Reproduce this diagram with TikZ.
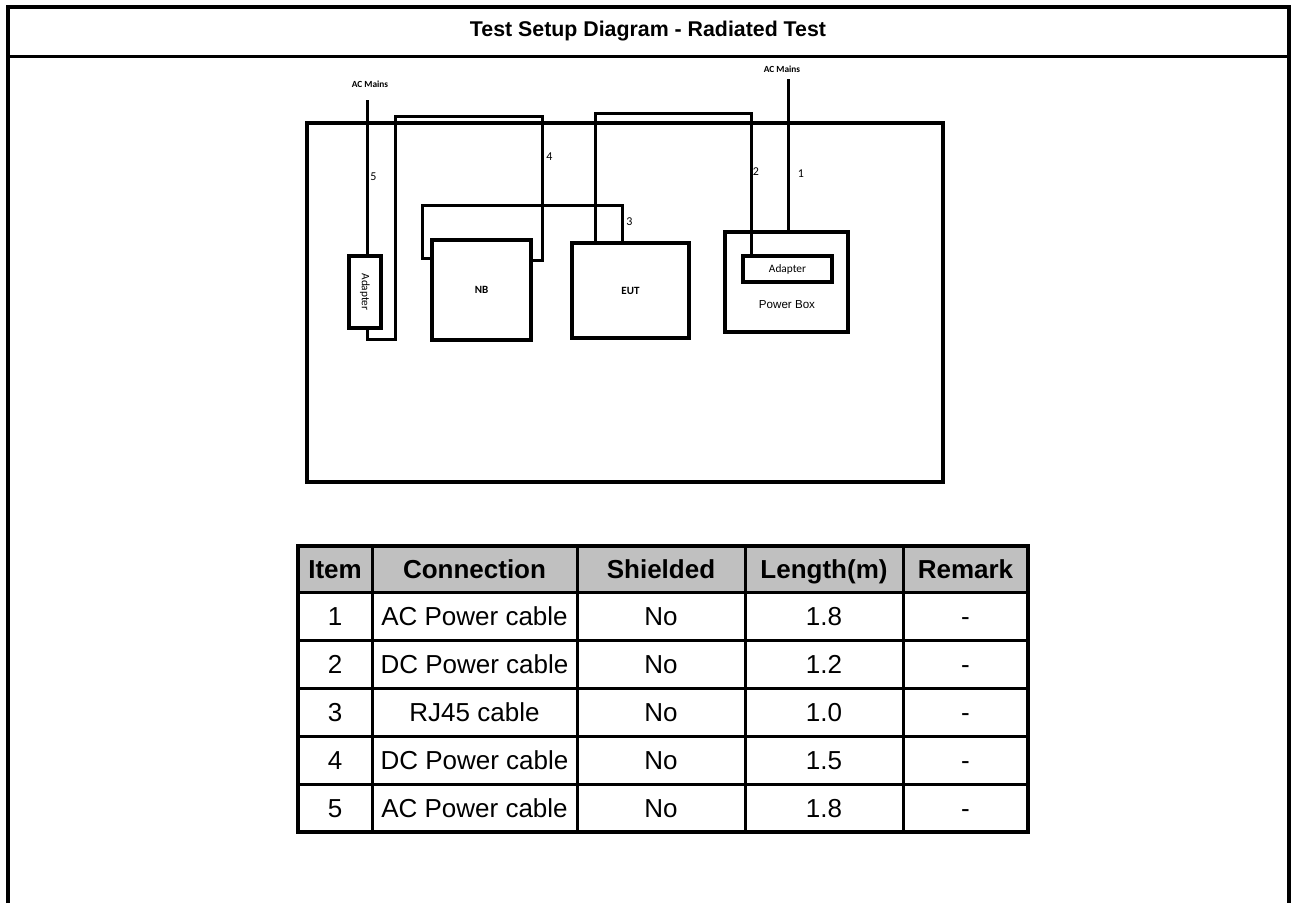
\documentclass[tikz,border=0pt]{standalone}
\usepackage{fontspec}
\setmainfont{Liberation Sans}
\newfontfamily\carlito{Carlito}
\definecolor{headgray}{HTML}{C0C0C0}
\begin{document}
\begin{tikzpicture}[x=0.75pt,y=-0.75pt,
  frame/.style={line width=3pt},
  box/.style={draw,line width=2.4pt,inner sep=0pt},
  cable/.style={line width=2.25pt},
  tag/.style={inner sep=0pt,font=\carlito\fontsize{9}{10}\selectfont},
  mains/.style={inner sep=0pt,font=\carlito\bfseries\fontsize{7}{8}\selectfont},
  small/.style={inner sep=0pt,font=\carlito\fontsize{8.5}{10}\selectfont},
  smallbold/.style={inner sep=0pt,font=\carlito\bfseries\fontsize{8.3}{10}\selectfont},
  grid/.style={line width=2.25pt},
  cell/.style={inner sep=0pt,anchor=base,font=\fontsize{19.5}{22}\selectfont},
  head/.style={inner sep=0pt,anchor=base,font=\bfseries\fontsize{19.5}{22}\selectfont}]
\useasboundingbox (0,0) rectangle (1295,903);

% page frame and title bar
\draw[frame] (7.5,903) -- (7.5,7) -- (1289,7) -- (1289,903);
\draw[line width=2.25pt] (7.5,56) -- (1289,56);
\node[inner sep=0pt,font=\bfseries\fontsize{16}{19}\selectfont] (title) at (648,31) {Test Setup Diagram - Radiated Test};

% test table outline
\draw[line width=2.4pt] (307,123) rectangle (943,482);

% equipment
\node[box,minimum width=24pt,minimum height=54pt] (adL) at (365,292) {};
\node[small,rotate=-90] (adLtext) at (adL.center) {Adapter};
\node[box,smallbold,minimum width=74.25pt,minimum height=75pt] (nb) at (481.5,290) {NB};
\node[box,smallbold,minimum width=87.75pt,minimum height=71.25pt] (eut) at (630.5,290.5) {EUT};
\node[box,minimum width=92.25pt,minimum height=75pt] (pbox) at (786.5,282) {};
\node[box,small,minimum width=66.75pt,minimum height=19.5pt] (adR) at (787.5,269) {Adapter};
\node[inner sep=0pt,font=\fontsize{8.7}{10}\selectfont] (pboxtext) at (787,305) {Power Box};

% mains feeds
\node[mains] (acL) at (370,84) {AC Mains};
\node[mains] (acR) at (782,69) {AC Mains};
\coordinate (mainsL) at (367,100);
\coordinate (mainsR) at (788,79);

% bend points of the cables
\coordinate (k2a) at (595,113);
\coordinate (k2b) at (751,113);
\coordinate (k3a) at (422,258);
\coordinate (k3b) at (422,205);
\coordinate (k3c) at (622,205);
\coordinate (k4a) at (542,260);
\coordinate (k4b) at (542,116);
\coordinate (k4c) at (395,116);
\coordinate (k4d) at (395,339);
\coordinate (k4e) at (367,339);

% cables
\draw[cable] (mainsR) -- (mainsR |- pbox.north);
\draw[cable] (k2a |- eut.north) -- (k2a) -- (k2b) -- (k2b |- adR.north);
\draw[cable] (nb.west |- k3a) -- (k3a) -- (k3b) -- (k3c) -- (k3c |- eut.north);
\draw[cable] (nb.east |- k4a) -- (k4a) -- (k4b) -- (k4c) -- (k4d) -- (k4e) -- (k4e |- adL.south);
\draw[cable] (mainsL) -- (mainsL |- adL.north);

% cable numbers
\node[tag] (n1) at (801,174) {1};
\node[tag] (n2) at (756,172) {2};
\node[tag] (n3) at (629.5,222) {3};
\node[tag] (n4) at (549.5,157) {4};
\node[tag] (n5) at (373.5,177) {5};

% cable list
\fill[headgray] (298,546) rectangle (1028,592);
\foreach \yy in {592,640,688,736,784} \draw[grid] (298,\yy) -- (1028,\yy);
\foreach \xx in {372,577,745,903} \draw[grid] (\xx,546) -- (\xx,832);
\draw[line width=2.5pt] (298,546) rectangle (1028,832);

\node[head] (hItem) at (335,578.3) {Item};
\node[head] (hConn) at (474.5,578.3) {Connection};
\node[head] (hShield) at (661,578.3) {Shielded};
\node[head] (hLen) at (824,578.3) {Length(m)};
\node[head] (hRem) at (965.5,578.3) {Remark};

\foreach \yy/\it/\con/\len [count=\r] in {616/1/AC Power cable/1.8, 664/2/DC Power cable/1.2, 712/3/RJ45 cable/1.0, 760/4/DC Power cable/1.5, 808/5/AC Power cable/1.8} {
  \node[cell] (item\r) at (335,\yy+9.3) {\it};
  \node[cell] (conn\r) at (474.5,\yy+9.3) {\con};
  \node[cell] (shield\r) at (661,\yy+9.3) {No};
  \node[cell] (len\r) at (824,\yy+9.3) {\len};
  \node[cell] (rem\r) at (965.5,\yy+9.3) {-};
}
\end{tikzpicture}
\end{document}
